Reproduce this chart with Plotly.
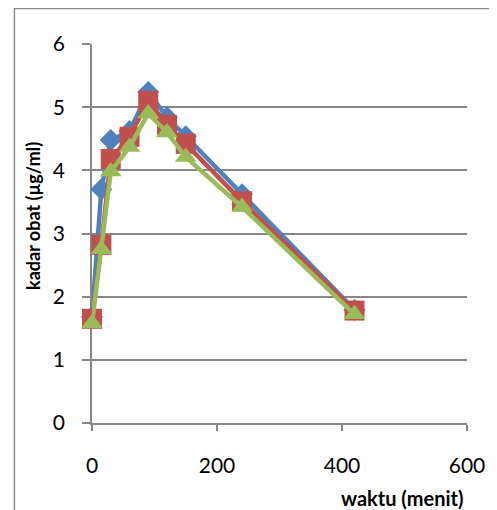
import plotly.graph_objects as go

waktu = [0, 15, 30, 60, 90, 120, 150, 240, 420]
seri_biru = [1.68, 3.70, 4.48, 4.62, 5.24, 4.84, 4.54, 3.62, 1.79]
seri_merah = [1.65, 2.82, 4.18, 4.53, 5.10, 4.72, 4.42, 3.51, 1.78]
seri_hijau = [1.58, 2.75, 3.98, 4.37, 4.90, 4.60, 4.21, 3.42, 1.72]

FONT = "Lato"
GRID = "#878787"

fig = go.Figure()
for vals, color, sym, size in [
    (seri_biru, "#4F81BD", "diamond", 17),
    (seri_merah, "#C0504D", "square", 20),
    (seri_hijau, "#9BBB59", "triangle-up", 19),
]:
    fig.add_trace(go.Scatter(
        x=waktu, y=vals, mode="lines+markers",
        line=dict(color=color, width=4.5),
        marker=dict(symbol=sym, size=size, color=color, line=dict(width=0)),
        cliponaxis=False, showlegend=False,
    ))

fig.update_layout(
    width=489, height=502,
    margin=dict(l=84, r=28, t=36, b=87),
    paper_bgcolor="white", plot_bgcolor="white",
    font=dict(family=FONT, color="black"),
    xaxis=dict(
        range=[0, 600], tickvals=[0, 200, 400, 600], ticktext=["0", "200", "400", "600"],
        showgrid=False, zeroline=False, showline=True, linecolor=GRID, linewidth=1.5,
        ticks="outside", ticklen=6, tickcolor=GRID, tickwidth=1.5,
        tickfont=dict(size=21, family=FONT), ticklabelstandoff=17, layer="below traces",
    ),
    yaxis=dict(
        range=[0, 6], tickvals=[0, 1, 2, 3, 4, 5, 6], ticktext=["0", "1", "2", "3", "4", "5", "6"],
        showgrid=True, gridcolor=GRID, gridwidth=1.5, zeroline=False,
        showline=True, linecolor=GRID, linewidth=1.5,
        ticks="outside", ticklen=8, tickcolor=GRID, tickwidth=1.5,
        tickfont=dict(size=21, family=FONT), ticklabelstandoff=13, layer="below traces",
    ),
    annotations=[
        dict(text="<b>kadar obat (µg/ml)</b>", xref="paper", yref="paper",
             x=-0.156, y=0.545, showarrow=False, textangle=-90,
             font=dict(size=18, family=FONT), xanchor="center", yanchor="middle"),
        dict(text="<b>waktu (menit)</b>", xref="paper", yref="paper",
             x=0.995, y=(423 - 498) / 379, showarrow=False,
             font=dict(size=20, family=FONT), xanchor="right", yanchor="middle"),
    ],
    shapes=[
        dict(type="rect", xref="paper", yref="paper",
             x0=(14 - 92) / 377, x1=(505 - 92) / 377,
             y0=(423 - 520) / 379, y1=(423 - 8.5) / 379,
             line=dict(color="#8c8c8c", width=1.5), fillcolor="rgba(0,0,0,0)", layer="below"),
    ],
)

fig.write_html("out.html")
